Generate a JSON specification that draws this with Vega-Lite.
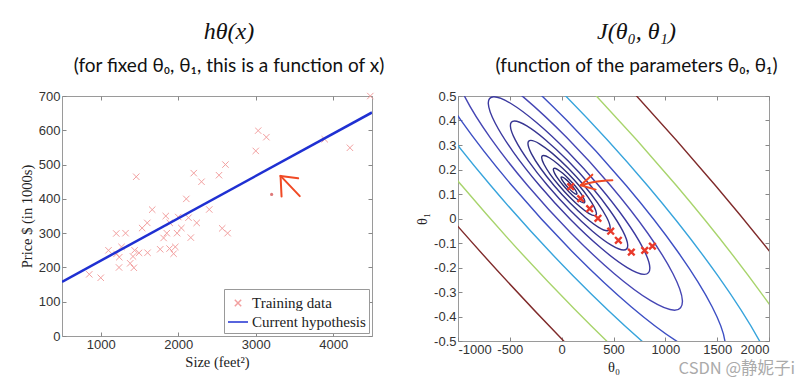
{
  "$schema": "https://vega.github.io/schema/vega-lite/v6.json",
  "background": "white",
  "padding": {"left": 18, "top": 19, "right": 5, "bottom": 5},
  "spacing": 28,
  "config": {
    "view": {"stroke": "#9a9a9a", "strokeWidth": 1},
    "axis": {"labelFont": "Liberation Sans", "labelFontSize": 13, "labelColor": "#333", "tickColor": "#888", "tickSize": -4, "domain": false, "grid": false, "titleFont": "Liberation Serif", "titleFontSize": 14.5, "titleFontWeight": "normal", "titleColor": "#222", "labelPadding": 6},
    "title": {"font": "Liberation Serif", "fontStyle": "italic", "fontSize": 24, "fontWeight": "normal", "color": "#111", "subtitleFont": "Lato", "subtitleFontSize": 19, "subtitleColor": "#111", "subtitlePadding": 13, "offset": 14, "anchor": "middle"}
  },
  "datasets": {
    "houses": [
      {"size": 2104, "price": 399.9, "series": "Training data"}, {"size": 1600, "price": 329.9, "series": "Training data"}, {"size": 2400, "price": 369, "series": "Training data"}, {"size": 1416, "price": 232, "series": "Training data"}, {"size": 3000, "price": 539.9, "series": "Training data"}, {"size": 1985, "price": 299.9, "series": "Training data"}, {"size": 1534, "price": 314.9, "series": "Training data"}, {"size": 1427, "price": 199, "series": "Training data"}, {"size": 1380, "price": 212, "series": "Training data"}, {"size": 1494, "price": 242.5, "series": "Training data"}, {"size": 1940, "price": 240, "series": "Training data"}, {"size": 2000, "price": 347, "series": "Training data"}, {"size": 1890, "price": 330, "series": "Training data"}, {"size": 4478, "price": 699.9, "series": "Training data"}, {"size": 1268, "price": 259.9, "series": "Training data"}, {"size": 2300, "price": 449.9, "series": "Training data"}, {"size": 1320, "price": 299.9, "series": "Training data"}, {"size": 1236, "price": 199.9, "series": "Training data"}, {"size": 2609, "price": 500, "series": "Training data"}, {"size": 3031, "price": 599, "series": "Training data"}, {"size": 1767, "price": 252.9, "series": "Training data"}, {"size": 1888, "price": 255, "series": "Training data"}, {"size": 1604, "price": 242.9, "series": "Training data"}, {"size": 1962, "price": 259.9, "series": "Training data"}, {"size": 3890, "price": 573.9, "series": "Training data"}, {"size": 1100, "price": 249.9, "series": "Training data"}, {"size": 1458, "price": 464.5, "series": "Training data"}, {"size": 2526, "price": 469, "series": "Training data"}, {"size": 2200, "price": 475, "series": "Training data"}, {"size": 2637, "price": 299.9, "series": "Training data"}, {"size": 1839, "price": 349.9, "series": "Training data"}, {"size": 1000, "price": 169.9, "series": "Training data"}, {"size": 2040, "price": 314.9, "series": "Training data"}, {"size": 3137, "price": 579.9, "series": "Training data"}, {"size": 1811, "price": 285.9, "series": "Training data"}, {"size": 1437, "price": 249.9, "series": "Training data"}, {"size": 1239, "price": 229.9, "series": "Training data"}, {"size": 2132, "price": 345, "series": "Training data"}, {"size": 4215, "price": 549, "series": "Training data"}, {"size": 2162, "price": 287, "series": "Training data"}, {"size": 1664, "price": 368.5, "series": "Training data"}, {"size": 2238, "price": 329.9, "series": "Training data"}, {"size": 2567, "price": 314, "series": "Training data"}, {"size": 1200, "price": 299, "series": "Training data"}, {"size": 852, "price": 179.9, "series": "Training data"}, {"size": 1852, "price": 299.9, "series": "Training data"}, {"size": 1203, "price": 239.5, "series": "Training data"}
    ],
    "hyp": [
      {"size": 500, "price": 158, "series": "Current hypothesis"},
      {"size": 4500, "price": 652, "series": "Current hypothesis"}
    ],
    "arrowL": [
      {"seg": "a", "i": 0, "x": 3320, "y": 467}, {"seg": "a", "i": 1, "x": 3568, "y": 408},
      {"seg": "b", "i": 0, "x": 3320, "y": 467}, {"seg": "b", "i": 1, "x": 3547, "y": 460},
      {"seg": "c", "i": 0, "x": 3320, "y": 467}, {"seg": "c", "i": 1, "x": 3333, "y": 407}
    ],
    "dotL": [{"x": 3205, "y": 413}],
    "contours": [
      {"lv": "c01", "i": 0, "t0": 1483.3, "t1": 0.1345}, {"lv": "c01", "i": 1, "t0": 0.7, "t1": 0.8218}, {"lv": "c01", "i": 2, "t0": -1471.1, "t1": 1.4045}, {"lv": "c01", "i": 3, "t0": -2708.1, "t1": 1.7938}, {"lv": "c01", "i": 4, "t0": -3522.0, "t1": 1.9305}, {"lv": "c01", "i": 5, "t0": -3788.8, "t1": 1.7938}, {"lv": "c01", "i": 6, "t0": -3468.0, "t1": 1.4045}, {"lv": "c01", "i": 7, "t0": -2608.3, "t1": 0.8218}, {"lv": "c01", "i": 8, "t0": -1340.7, "t1": 0.1345}, {"lv": "c01", "i": 9, "t0": 141.9, "t1": -0.5528}, {"lv": "c01", "i": 10, "t0": 1613.7, "t1": -1.1355}, {"lv": "c01", "i": 11, "t0": 2850.7, "t1": -1.5248}, {"lv": "c01", "i": 12, "t0": 3664.6, "t1": -1.6615}, {"lv": "c01", "i": 13, "t0": 3931.4, "t1": -1.5248}, {"lv": "c01", "i": 14, "t0": 3610.6, "t1": -1.1355}, {"lv": "c01", "i": 15, "t0": 2750.9, "t1": -0.5528},
      {"lv": "c02", "i": 0, "t0": 1106.3, "t1": 0.1345}, {"lv": "c02", "i": 1, "t0": 19.6, "t1": 0.6383}, {"lv": "c02", "i": 2, "t0": -1059.3, "t1": 1.0654}, {"lv": "c02", "i": 3, "t0": -1966.0, "t1": 1.3507}, {"lv": "c02", "i": 4, "t0": -2562.6, "t1": 1.4510}, {"lv": "c02", "i": 5, "t0": -2758.2, "t1": 1.3507}, {"lv": "c02", "i": 6, "t0": -2523.0, "t1": 1.0654}, {"lv": "c02", "i": 7, "t0": -1892.9, "t1": 0.6383}, {"lv": "c02", "i": 8, "t0": -963.7, "t1": 0.1345}, {"lv": "c02", "i": 9, "t0": 123.0, "t1": -0.3693}, {"lv": "c02", "i": 10, "t0": 1201.9, "t1": -0.7964}, {"lv": "c02", "i": 11, "t0": 2108.6, "t1": -1.0817}, {"lv": "c02", "i": 12, "t0": 2705.2, "t1": -1.1820}, {"lv": "c02", "i": 13, "t0": 2900.8, "t1": -1.0817}, {"lv": "c02", "i": 14, "t0": 2665.6, "t1": -0.7964}, {"lv": "c02", "i": 15, "t0": 2035.5, "t1": -0.3693},
      {"lv": "c03", "i": 0, "t0": 827.3, "t1": 0.1345}, {"lv": "c03", "i": 1, "t0": 33.5, "t1": 0.5025}, {"lv": "c03", "i": 2, "t0": -754.5, "t1": 0.8144}, {"lv": "c03", "i": 3, "t0": -1416.8, "t1": 1.0229}, {"lv": "c03", "i": 4, "t0": -1852.6, "t1": 1.0961}, {"lv": "c03", "i": 5, "t0": -1995.4, "t1": 1.0229}, {"lv": "c03", "i": 6, "t0": -1823.7, "t1": 0.8144}, {"lv": "c03", "i": 7, "t0": -1363.4, "t1": 0.5025}, {"lv": "c03", "i": 8, "t0": -684.7, "t1": 0.1345}, {"lv": "c03", "i": 9, "t0": 109.1, "t1": -0.2335}, {"lv": "c03", "i": 10, "t0": 897.1, "t1": -0.5454}, {"lv": "c03", "i": 11, "t0": 1559.4, "t1": -0.7539}, {"lv": "c03", "i": 12, "t0": 1995.2, "t1": -0.8271}, {"lv": "c03", "i": 13, "t0": 2138.0, "t1": -0.7539}, {"lv": "c03", "i": 14, "t0": 1966.3, "t1": -0.5454}, {"lv": "c03", "i": 15, "t0": 1506.0, "t1": -0.2335},
      {"lv": "c04", "i": 0, "t0": 622.3, "t1": 0.1345}, {"lv": "c04", "i": 1, "t0": 43.8, "t1": 0.4027}, {"lv": "c04", "i": 2, "t0": -530.6, "t1": 0.6301}, {"lv": "c04", "i": 3, "t0": -1013.3, "t1": 0.7820}, {"lv": "c04", "i": 4, "t0": -1330.9, "t1": 0.8353}, {"lv": "c04", "i": 5, "t0": -1435.0, "t1": 0.7820}, {"lv": "c04", "i": 6, "t0": -1309.8, "t1": 0.6301}, {"lv": "c04", "i": 7, "t0": -974.4, "t1": 0.4027}, {"lv": "c04", "i": 8, "t0": -479.7, "t1": 0.1345}, {"lv": "c04", "i": 9, "t0": 98.8, "t1": -0.1337}, {"lv": "c04", "i": 10, "t0": 673.2, "t1": -0.3611}, {"lv": "c04", "i": 11, "t0": 1155.9, "t1": -0.5130}, {"lv": "c04", "i": 12, "t0": 1473.5, "t1": -0.5663}, {"lv": "c04", "i": 13, "t0": 1577.6, "t1": -0.5130}, {"lv": "c04", "i": 14, "t0": 1452.4, "t1": -0.3611}, {"lv": "c04", "i": 15, "t0": 1117.0, "t1": -0.1337},
      {"lv": "c05", "i": 0, "t0": 471.3, "t1": 0.1345}, {"lv": "c05", "i": 1, "t0": 51.3, "t1": 0.3292}, {"lv": "c05", "i": 2, "t0": -365.6, "t1": 0.4943}, {"lv": "c05", "i": 3, "t0": -716.1, "t1": 0.6045}, {"lv": "c05", "i": 4, "t0": -946.6, "t1": 0.6433}, {"lv": "c05", "i": 5, "t0": -1022.2, "t1": 0.6045}, {"lv": "c05", "i": 6, "t0": -931.3, "t1": 0.4943}, {"lv": "c05", "i": 7, "t0": -687.8, "t1": 0.3292}, {"lv": "c05", "i": 8, "t0": -328.7, "t1": 0.1345}, {"lv": "c05", "i": 9, "t0": 91.3, "t1": -0.0602}, {"lv": "c05", "i": 10, "t0": 508.2, "t1": -0.2253}, {"lv": "c05", "i": 11, "t0": 858.7, "t1": -0.3355}, {"lv": "c05", "i": 12, "t0": 1089.2, "t1": -0.3743}, {"lv": "c05", "i": 13, "t0": 1164.8, "t1": -0.3355}, {"lv": "c05", "i": 14, "t0": 1073.9, "t1": -0.2253}, {"lv": "c05", "i": 15, "t0": 830.4, "t1": -0.0602},
      {"lv": "c06", "i": 0, "t0": 356.3, "t1": 0.1345}, {"lv": "c06", "i": 1, "t0": 57.1, "t1": 0.2732}, {"lv": "c06", "i": 2, "t0": -240.0, "t1": 0.3908}, {"lv": "c06", "i": 3, "t0": -489.7, "t1": 0.4694}, {"lv": "c06", "i": 4, "t0": -654.0, "t1": 0.4970}, {"lv": "c06", "i": 5, "t0": -707.8, "t1": 0.4694}, {"lv": "c06", "i": 6, "t0": -643.1, "t1": 0.3908}, {"lv": "c06", "i": 7, "t0": -469.6, "t1": 0.2732}, {"lv": "c06", "i": 8, "t0": -213.7, "t1": 0.1345}, {"lv": "c06", "i": 9, "t0": 85.5, "t1": -0.0042}, {"lv": "c06", "i": 10, "t0": 382.6, "t1": -0.1218}, {"lv": "c06", "i": 11, "t0": 632.3, "t1": -0.2004}, {"lv": "c06", "i": 12, "t0": 796.6, "t1": -0.2280}, {"lv": "c06", "i": 13, "t0": 850.4, "t1": -0.2004}, {"lv": "c06", "i": 14, "t0": 785.7, "t1": -0.1218}, {"lv": "c06", "i": 15, "t0": 612.2, "t1": -0.0042},
      {"lv": "c07", "i": 0, "t0": 278.3, "t1": 0.1345}, {"lv": "c07", "i": 1, "t0": 61.0, "t1": 0.2353}, {"lv": "c07", "i": 2, "t0": -154.8, "t1": 0.3207}, {"lv": "c07", "i": 3, "t0": -336.2, "t1": 0.3778}, {"lv": "c07", "i": 4, "t0": -455.5, "t1": 0.3978}, {"lv": "c07", "i": 5, "t0": -494.6, "t1": 0.3778}, {"lv": "c07", "i": 6, "t0": -447.6, "t1": 0.3207}, {"lv": "c07", "i": 7, "t0": -321.5, "t1": 0.2353}, {"lv": "c07", "i": 8, "t0": -135.7, "t1": 0.1345}, {"lv": "c07", "i": 9, "t0": 81.6, "t1": 0.0337}, {"lv": "c07", "i": 10, "t0": 297.4, "t1": -0.0517}, {"lv": "c07", "i": 11, "t0": 478.8, "t1": -0.1088}, {"lv": "c07", "i": 12, "t0": 598.1, "t1": -0.1288}, {"lv": "c07", "i": 13, "t0": 637.2, "t1": -0.1088}, {"lv": "c07", "i": 14, "t0": 590.2, "t1": -0.0517}, {"lv": "c07", "i": 15, "t0": 464.1, "t1": 0.0337},
      {"lv": "c08", "i": 0, "t0": 216.3, "t1": 0.1345}, {"lv": "c08", "i": 1, "t0": 64.1, "t1": 0.2051}, {"lv": "c08", "i": 2, "t0": -87.1, "t1": 0.2649}, {"lv": "c08", "i": 3, "t0": -214.1, "t1": 0.3049}, {"lv": "c08", "i": 4, "t0": -297.7, "t1": 0.3189}, {"lv": "c08", "i": 5, "t0": -325.1, "t1": 0.3049}, {"lv": "c08", "i": 6, "t0": -292.2, "t1": 0.2649}, {"lv": "c08", "i": 7, "t0": -203.9, "t1": 0.2051}, {"lv": "c08", "i": 8, "t0": -73.7, "t1": 0.1345}, {"lv": "c08", "i": 9, "t0": 78.6, "t1": 0.0639}, {"lv": "c08", "i": 10, "t0": 229.7, "t1": 0.0041}, {"lv": "c08", "i": 11, "t0": 356.7, "t1": -0.0359}, {"lv": "c08", "i": 12, "t0": 440.3, "t1": -0.0499}, {"lv": "c08", "i": 13, "t0": 467.7, "t1": -0.0359}, {"lv": "c08", "i": 14, "t0": 434.8, "t1": 0.0041}, {"lv": "c08", "i": 15, "t0": 346.5, "t1": 0.0639},
      {"lv": "c09", "i": 0, "t0": 167.9, "t1": 0.1345}, {"lv": "c09", "i": 1, "t0": 66.5, "t1": 0.1815}, {"lv": "c09", "i": 2, "t0": -34.2, "t1": 0.2214}, {"lv": "c09", "i": 3, "t0": -118.9, "t1": 0.2480}, {"lv": "c09", "i": 4, "t0": -174.5, "t1": 0.2574}, {"lv": "c09", "i": 5, "t0": -192.8, "t1": 0.2480}, {"lv": "c09", "i": 6, "t0": -170.8, "t1": 0.2214}, {"lv": "c09", "i": 7, "t0": -112.0, "t1": 0.1815}, {"lv": "c09", "i": 8, "t0": -25.3, "t1": 0.1345}, {"lv": "c09", "i": 9, "t0": 76.1, "t1": 0.0875}, {"lv": "c09", "i": 10, "t0": 176.8, "t1": 0.0476}, {"lv": "c09", "i": 11, "t0": 261.5, "t1": 0.0210}, {"lv": "c09", "i": 12, "t0": 317.1, "t1": 0.0116}, {"lv": "c09", "i": 13, "t0": 335.4, "t1": 0.0210}, {"lv": "c09", "i": 14, "t0": 313.4, "t1": 0.0476}, {"lv": "c09", "i": 15, "t0": 254.6, "t1": 0.0875},
      {"lv": "c10", "i": 0, "t0": 126.8, "t1": 0.1345}, {"lv": "c10", "i": 1, "t0": 68.5, "t1": 0.1615}, {"lv": "c10", "i": 2, "t0": 10.7, "t1": 0.1844}, {"lv": "c10", "i": 3, "t0": -37.9, "t1": 0.1997}, {"lv": "c10", "i": 4, "t0": -69.9, "t1": 0.2051}, {"lv": "c10", "i": 5, "t0": -80.4, "t1": 0.1997}, {"lv": "c10", "i": 6, "t0": -67.8, "t1": 0.1844}, {"lv": "c10", "i": 7, "t0": -34.0, "t1": 0.1615}, {"lv": "c10", "i": 8, "t0": 15.8, "t1": 0.1345}, {"lv": "c10", "i": 9, "t0": 74.1, "t1": 0.1075}, {"lv": "c10", "i": 10, "t0": 131.9, "t1": 0.0846}, {"lv": "c10", "i": 11, "t0": 180.5, "t1": 0.0693}, {"lv": "c10", "i": 12, "t0": 212.5, "t1": 0.0639}, {"lv": "c10", "i": 13, "t0": 223.0, "t1": 0.0693}, {"lv": "c10", "i": 14, "t0": 210.4, "t1": 0.0846}, {"lv": "c10", "i": 15, "t0": 176.6, "t1": 0.1075},
      {"lv": "c11", "i": 0, "t0": 99.3, "t1": 0.1345}, {"lv": "c11", "i": 1, "t0": 69.9, "t1": 0.1481}, {"lv": "c11", "i": 2, "t0": 40.7, "t1": 0.1597}, {"lv": "c11", "i": 3, "t0": 16.2, "t1": 0.1674}, {"lv": "c11", "i": 4, "t0": 0.0, "t1": 0.1701}, {"lv": "c11", "i": 5, "t0": -5.2, "t1": 0.1674}, {"lv": "c11", "i": 6, "t0": 1.1, "t1": 0.1597}, {"lv": "c11", "i": 7, "t0": 18.2, "t1": 0.1481}, {"lv": "c11", "i": 8, "t0": 43.3, "t1": 0.1345}, {"lv": "c11", "i": 9, "t0": 72.7, "t1": 0.1209}, {"lv": "c11", "i": 10, "t0": 101.9, "t1": 0.1093}, {"lv": "c11", "i": 11, "t0": 126.4, "t1": 0.1016}, {"lv": "c11", "i": 12, "t0": 142.6, "t1": 0.0989}, {"lv": "c11", "i": 13, "t0": 147.8, "t1": 0.1016}, {"lv": "c11", "i": 14, "t0": 141.5, "t1": 0.1093}, {"lv": "c11", "i": 15, "t0": 124.4, "t1": 0.1209}
    ],
    "gd": [
      {"t0": 87, "t1": 0.130}, {"t0": 183.5, "t1": 0.081}, {"t0": 270, "t1": 0.040}, {"t0": 350, "t1": 0.001}, {"t0": 473, "t1": -0.052}, {"t0": 547, "t1": -0.089}, {"t0": 672, "t1": -0.137}, {"t0": 801, "t1": -0.130}, {"t0": 875, "t1": -0.113}
    ],
    "arrowR": [
      {"seg": "a", "i": 0, "t0": 184, "t1": 0.1355}, {"seg": "a", "i": 1, "t0": 312, "t1": 0.149}, {"seg": "a", "i": 2, "t0": 489, "t1": 0.156},
      {"seg": "b", "i": 0, "t0": 184, "t1": 0.1355}, {"seg": "b", "i": 1, "t0": 296, "t1": 0.179},
      {"seg": "c", "i": 0, "t0": 184, "t1": 0.1355}, {"seg": "c", "i": 1, "t0": 328, "t1": 0.118}
    ],
    "mark": [{"t0": 1690, "t1": -0.615, "label": "CSDN @静妮子i"}]
  },
  "resolve": {"scale": {"color": "independent", "shape": "independent"}, "legend": {"color": "independent", "shape": "independent"}},
  "hconcat": [
    {
      "width": 310,
      "height": 240,
      "title": {"text": "hθ(x)", "subtitle": "(for fixed θ₀, θ₁, this is a function of x)", "dx": 12},
      "layer": [
        {
          "data": {"name": "houses"},
          "mark": {"type": "point", "filled": false, "strokeWidth": 1, "size": 400, "opacity": 1},
          "encoding": {
            "x": {"field": "size", "type": "quantitative", "scale": {"domain": [500, 4500], "nice": false, "zero": false}, "axis": {"values": [1000, 2000, 3000, 4000], "format": "d", "title": "Size (feet²)"}},
            "y": {"field": "price", "type": "quantitative", "scale": {"domain": [0, 700], "nice": false}, "axis": {"values": [0, 100, 200, 300, 400, 500, 600, 700], "format": "d", "title": "Price $ (in 1000s)"}},
            "color": {"field": "series", "type": "nominal", "scale": {"domain": ["Training data", "Current hypothesis"], "range": ["#f2a0a0", "#1f30d2"]}, "legend": {"title": null, "orient": "bottom-right", "offset": 3, "strokeColor": "#999", "fillColor": "white", "padding": 3, "labelFont": "Liberation Serif", "labelFontSize": 15, "labelColor": "#222", "symbolSize": 400, "symbolStrokeWidth": 1.5, "rowPadding": 0, "labelOffset": 3}},
            "shape": {"field": "series", "type": "nominal", "scale": {"domain": ["Training data", "Current hypothesis"], "range": ["M-0.32,-0.32L0.32,0.32M-0.32,0.32L0.32,-0.32", "stroke"]}, "legend": {"title": null, "orient": "bottom-right", "offset": 3, "strokeColor": "#999", "fillColor": "white", "padding": 3, "labelFont": "Liberation Serif", "labelFontSize": 15, "labelColor": "#222", "symbolSize": 400, "symbolStrokeWidth": 1.5, "rowPadding": 0, "labelOffset": 3}}
          }
        },
        {
          "data": {"name": "hyp"},
          "mark": {"type": "line", "strokeWidth": 2.5, "clip": true},
          "encoding": {
            "x": {"field": "size", "type": "quantitative", "axis": {"orient": "top", "values": [1000, 2000, 3000, 4000], "labels": false, "title": null}},
            "y": {"field": "price", "type": "quantitative", "axis": {"orient": "right", "values": [0, 100, 200, 300, 400, 500, 600, 700], "labels": false, "title": null}},
            "color": {"field": "series", "type": "nominal"}
          }
        },
        {
          "data": {"name": "arrowL"},
          "mark": {"type": "line", "color": "#f04a25", "strokeWidth": 2, "strokeCap": "round"},
          "encoding": {
            "x": {"field": "x", "type": "quantitative", "axis": null},
            "y": {"field": "y", "type": "quantitative", "axis": null},
            "detail": {"field": "seg"},
            "order": {"field": "i"}
          }
        },
        {
          "data": {"name": "dotL"},
          "mark": {"type": "point", "filled": true, "color": "#d04040", "size": 10},
          "encoding": {
            "x": {"field": "x", "type": "quantitative", "axis": null},
            "y": {"field": "y", "type": "quantitative", "axis": null}
          }
        }
      ],
      "resolve": {"axis": {"x": "independent", "y": "independent"}}
    },
    {
      "width": 311,
      "height": 245,
      "title": {"text": "J(θ₀, θ₁)", "subtitle": "(function of the parameters θ₀, θ₁)", "dx": 23},
      "layer": [
        {
          "data": {"name": "contours"},
          "mark": {"type": "line", "interpolate": "cardinal-closed", "clip": true, "strokeWidth": 1.4},
          "encoding": {
            "x": {"field": "t0", "type": "quantitative", "scale": {"domain": [-1000, 2000], "nice": false, "zero": false}, "axis": {"values": [-1000, -500, 0, 500, 1000, 1500, 2000], "format": "d", "labelExpr": "replace(datum.label, '−', '-')", "title": "θ₀"}},
            "y": {"field": "t1", "type": "quantitative", "scale": {"domain": [-0.5, 0.5], "nice": false, "zero": false}, "axis": {"values": [-0.5, -0.4, -0.3, -0.2, -0.1, 0, 0.1, 0.2, 0.3, 0.4, 0.5], "format": ".1~f", "labelExpr": "replace(datum.label, '−', '-')", "title": "θ₁"}},
            "color": {"field": "lv", "type": "nominal", "scale": {"domain": ["c01", "c02", "c03", "c04", "c05", "c06", "c07", "c08", "c09", "c10", "c11"], "range": ["#7f2a2a", "#a8d46c", "#37a4dc", "#3d4fc4", "#4646b4", "#3b39a0", "#373592", "#323288", "#2e2e80", "#2b2b7a", "#2a2a76"]}, "legend": null},
            "detail": {"field": "lv"},
            "order": {"field": "i"}
          }
        },
        {
          "data": {"name": "gd"},
          "mark": {"type": "point", "shape": "M-0.32,-0.32L0.32,0.32M-0.32,0.32L0.32,-0.32", "filled": false, "color": "#e8392b", "strokeWidth": 2.4, "size": 420, "opacity": 1},
          "encoding": {
            "x": {"field": "t0", "type": "quantitative", "axis": {"orient": "top", "values": [-1000, -500, 0, 500, 1000, 1500, 2000], "labels": false, "title": null}},
            "y": {"field": "t1", "type": "quantitative", "axis": {"orient": "right", "values": [-0.5, -0.4, -0.3, -0.2, -0.1, 0, 0.1, 0.2, 0.3, 0.4, 0.5], "labels": false, "title": null}}
          }
        },
        {
          "data": {"name": "arrowR"},
          "mark": {"type": "line", "color": "#f04a25", "strokeWidth": 2, "strokeCap": "round", "interpolate": "monotone"},
          "encoding": {
            "x": {"field": "t0", "type": "quantitative", "axis": null},
            "y": {"field": "t1", "type": "quantitative", "axis": null},
            "detail": {"field": "seg"},
            "order": {"field": "i"}
          }
        },
        {
          "data": {"name": "mark"},
          "mark": {"type": "text", "font": "Noto Sans CJK SC", "fontSize": 16.5, "color": "#aaaaaa", "align": "center", "baseline": "middle"},
          "encoding": {
            "x": {"field": "t0", "type": "quantitative", "axis": null},
            "y": {"field": "t1", "type": "quantitative", "axis": null},
            "text": {"field": "label"}
          }
        }
      ],
      "resolve": {"axis": {"x": "independent", "y": "independent"}}
    }
  ]
}
